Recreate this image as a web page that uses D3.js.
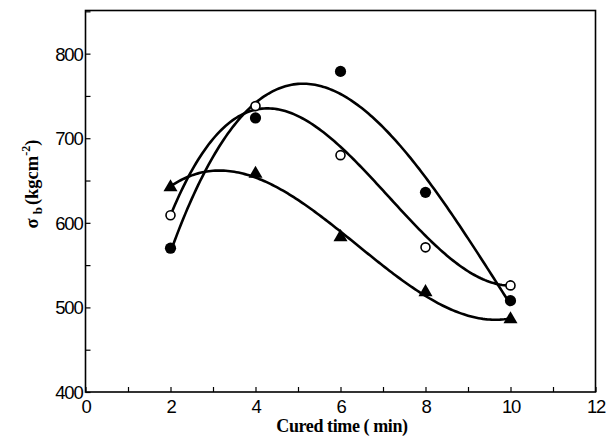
<!DOCTYPE html>
<html>
<head>
<meta charset="utf-8">
<script src="https://cdn.jsdelivr.net/npm/d3@7"></script>
<style>
  body { margin: 0; background: #fff; }
  svg { display: block; }
</style>
</head>
<body>
<svg id="chart"></svg>
<script>
// cured time (min)
const times = [2, 4, 6, 8, 10];
// sigma_b values (kg cm^-2)
const filledCircle = [570, 724, 779, 636, 508];
const openCircle = [609, 738, 680, 571, 526];
const filledTriangle = [642, 658, 583, 518, 486];
// the open-circle fit curve sits above its points, so read it off the curve itself
const openCircleCurve = [609, 733, 691, 584, 526];

const xTicks = [0, 2, 4, 6, 8, 10, 12];
const yTicks = [400, 500, 600, 700, 800];

const W = 608, H = 437;
const margin = {top: 10.5, right: 12.5, bottom: 45, left: 85.5};
const width = W - margin.left - margin.right;
const height = H - margin.top - margin.bottom;

const svg = d3.select('#chart').attr('width', W).attr('height', H);
const g = svg.append('g').attr('transform', 'translate(' + margin.left + ',' + margin.top + ')');

const x = d3.scaleLinear().domain([0, 12]).range([0, width]);
const y = d3.scaleLinear().domain([400, 851]).range([height, 0]);

// least squares cubic (the drawn fit curves)
function cubicFit(xs, ys) {
  const n = 4;
  const A = [];
  for (let i = 0; i < n; i++) {
    A.push([]);
    for (let j = 0; j < n; j++) A[i].push(d3.sum(xs, xv => Math.pow(xv, i + j)));
    A[i].push(d3.sum(xs, (xv, k) => Math.pow(xv, i) * ys[k]));
  }
  for (let c = 0; c < n; c++) {
    let p = c;
    for (let r = c + 1; r < n; r++) if (Math.abs(A[r][c]) > Math.abs(A[p][c])) p = r;
    [A[c], A[p]] = [A[p], A[c]];
    for (let r = 0; r < n; r++) {
      if (r === c) continue;
      const f = A[r][c] / A[c][c];
      for (let k = c; k <= n; k++) A[r][k] -= f * A[c][k];
    }
  }
  const coef = A.map((row, i) => row[n] / row[i]);
  return xv => coef[0] + coef[1] * xv + coef[2] * xv * xv + coef[3] * xv * xv * xv;
}

const series = [
  {values: filledCircle, curve: filledCircle, symbol: 'filled'},
  {values: openCircle, curve: openCircleCurve, symbol: 'open'},
  {values: filledTriangle, curve: filledTriangle, symbol: 'triangle'}
];

const line = d3.line().x(d => x(d[0])).y(d => y(d[1]));

series.forEach(s => {
  const f = cubicFit(times, s.curve);
  const pts = d3.range(2, 10.001, 0.05).map(t => [t, f(t)]);
  g.append('path')
    .datum(pts)
    .attr('d', line)
    .attr('fill', 'none')
    .attr('stroke', '#000')
    .attr('stroke-width', 2.6);
});

series.forEach(s => {
  const pts = times.map((t, i) => [t, s.values[i]]);
  if (s.symbol === 'triangle') {
    g.selectAll(null).data(pts).enter().append('path')
      .attr('d', d3.symbol().type(d3.symbolTriangle).size(85))
      .attr('transform', d => 'translate(' + x(d[0]) + ',' + y(d[1]) + ')')
      .attr('fill', '#000');
  } else {
    g.selectAll(null).data(pts).enter().append('circle')
      .attr('cx', d => x(d[0]))
      .attr('cy', d => y(d[1]))
      .attr('r', s.symbol === 'open' ? 4.5 : 5.6)
      .attr('fill', s.symbol === 'open' ? '#fff' : '#000')
      .attr('stroke', '#000')
      .attr('stroke-width', s.symbol === 'open' ? 1.6 : 0);
  }
});

// axes
const xAxis = d3.axisBottom(x).tickValues(d3.range(0, 13, 1))
  .tickSizeInner(-5).tickSizeOuter(0)
  .tickFormat(d => xTicks.includes(d) ? d : '');
const yAxis = d3.axisLeft(y).tickValues(d3.range(400, 851, 50))
  .tickSizeInner(-5).tickSizeOuter(0)
  .tickFormat(d => yTicks.includes(d) ? d : '');

const gx = g.append('g').attr('transform', 'translate(0,' + height + ')').call(xAxis);
const gy = g.append('g').call(yAxis);
[gx, gy].forEach(a => {
  a.select('.domain').remove();
  a.selectAll('line').attr('stroke', '#000').attr('stroke-width', 1.2);
  a.selectAll('text')
    .attr('font-family', 'Liberation Sans, Arial, sans-serif')
    .attr('font-size', 18.5)
    .attr('letter-spacing', -1.2)
    .attr('fill', '#000');
});
gx.selectAll('text').attr('y', 5).attr('dy', '0.85em');
gy.selectAll('text').attr('x', -3).attr('dy', '0.35em');

// frame
g.append('rect')
  .attr('width', width).attr('height', height)
  .attr('fill', 'none').attr('stroke', '#000').attr('stroke-width', 1.6);

// axis titles
svg.append('text')
  .attr('x', 342)
  .attr('y', 432)
  .attr('text-anchor', 'middle')
  .attr('font-family', 'Liberation Serif, Times New Roman, serif')
  .attr('font-weight', 'bold')
  .attr('font-size', 18)
  .attr('letter-spacing', -0.4)
  .text('Cured time ( min)');

const yl = svg.append('text')
  .attr('transform', 'translate(38,184) rotate(-90)')
  .attr('text-anchor', 'middle')
  .attr('font-family', 'Liberation Serif, Times New Roman, serif')
  .attr('font-weight', 'bold')
  .attr('font-size', 18.5);
yl.append('tspan').text('\u03c3');
yl.append('tspan').attr('font-size', 13).attr('dy', 4).attr('dx', 4).text('b');
yl.append('tspan').attr('dy', -4).attr('dx', 2).text('(kgcm');
yl.append('tspan').attr('font-size', 12).attr('dy', -8).text('-2');
yl.append('tspan').attr('dy', 8).text(')');
</script>
</body>
</html>
